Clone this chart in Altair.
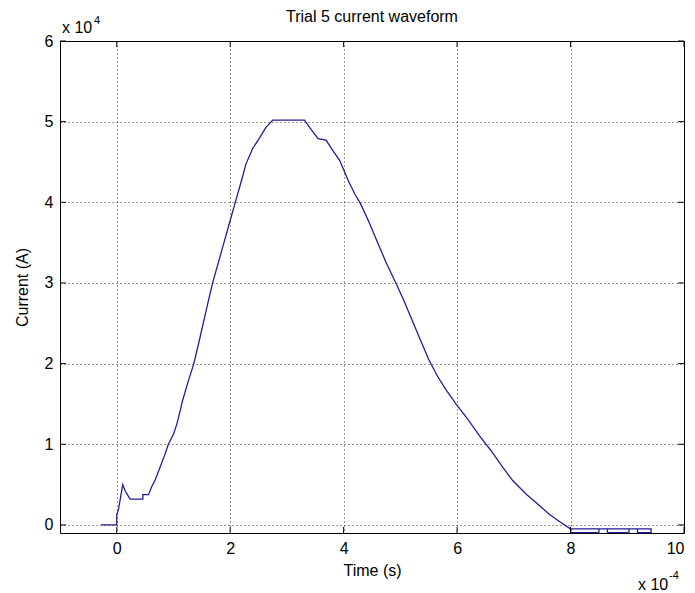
import altair as alt
import pandas as pd

# time in units of 1e-4 s, current in units of 1e4 A
time_vals = [-0.28, 0.0, 0.0, 0.03, 0.06, 0.106, 0.15, 0.235, 0.46, 0.46, 0.56, 0.62, 0.68, 0.76,
             0.85, 0.91, 1.0, 1.06, 1.12, 1.16, 1.26, 1.36, 1.47, 1.58, 1.69, 1.79, 1.89, 1.99,
             2.09, 2.2, 2.28, 2.40, 2.51, 2.63, 2.75, 3.31, 3.40, 3.55, 3.69, 3.81, 3.93, 4.08,
             4.2, 4.3, 4.45, 4.6, 4.75, 4.92, 5.05, 5.2, 5.35, 5.5, 5.65, 5.8, 5.98, 6.2, 6.4,
             6.6, 6.8, 6.98, 7.22, 7.42, 7.63, 7.83, 8.0,
             8.0, 8.5, 8.5, 8.0, 8.5, 8.65, 8.65, 9.03, 9.03, 8.65, 9.03, 9.18, 9.18, 9.42, 9.42, 9.18, 9.42]
current_vals = [0.0, 0.0, 0.125, 0.19, 0.31, 0.5, 0.42, 0.32, 0.32, 0.375, 0.375, 0.48, 0.56, 0.71,
                0.875, 1.0, 1.125, 1.25, 1.42, 1.54, 1.78, 2.0, 2.33, 2.67, 3.0, 3.25, 3.5, 3.75,
                4.0, 4.27, 4.48, 4.67, 4.79, 4.93, 5.02, 5.02, 4.93, 4.79, 4.77, 4.64, 4.52, 4.27,
                4.1, 3.98, 3.75, 3.5, 3.25, 3.0, 2.8, 2.55, 2.3, 2.05, 1.85, 1.68, 1.5, 1.3, 1.1,
                0.92, 0.72, 0.55, 0.38, 0.26, 0.13, 0.03, -0.05,
                -0.095, -0.095, -0.05, -0.05, -0.05, -0.05, -0.095, -0.095, -0.05, -0.05, -0.05, -0.05,
                -0.095, -0.095, -0.05, -0.05, -0.05]

x_ticks = [0, 2, 4, 6, 8, 10]
y_ticks = [0, 1, 2, 3, 4, 5, 6]
x_domain = [-1, 10]
y_domain = [-0.1, 6]

TITLE = "Trial 5 current waveform"
FONT = "Liberation Sans"
LINE_COLOR = "#1f1f96"

df = pd.DataFrame({"t": time_vals, "i": current_vals, "order": list(range(len(time_vals)))})

xs = alt.Scale(domain=x_domain, nice=False, zero=False)
ys = alt.Scale(domain=y_domain, nice=False, zero=False)

base_line = alt.Chart(df).mark_line(color=LINE_COLOR, strokeWidth=1.3).encode(
    x=alt.X("t:Q", scale=xs,
            axis=alt.Axis(values=x_ticks, title="Time (s)", grid=True, format="d")),
    y=alt.Y("i:Q", scale=ys,
            axis=alt.Axis(values=y_ticks, title="Current (A)", grid=True, format="d")),
    order="order:Q",
)

# inward tick marks (MATLAB style) on all four sides
xt = pd.DataFrame({"t": x_ticks})
yt = pd.DataFrame({"i": y_ticks})
tick_len_x = 0.105
tick_len_y = 0.075

bottom_ticks = alt.Chart(xt).mark_rule(color="black").encode(
    x=alt.X("t:Q", scale=xs), y=alt.datum(y_domain[0]), y2=alt.datum(y_domain[0] + tick_len_y))
top_ticks = alt.Chart(xt).mark_rule(color="black").encode(
    x=alt.X("t:Q", scale=xs), y=alt.datum(y_domain[1]), y2=alt.datum(y_domain[1] - tick_len_y))
left_ticks = alt.Chart(yt).mark_rule(color="black").encode(
    y=alt.Y("i:Q", scale=ys), x=alt.datum(x_domain[0]), x2=alt.datum(x_domain[0] + tick_len_x))
right_ticks = alt.Chart(yt).mark_rule(color="black").encode(
    y=alt.Y("i:Q", scale=ys), x=alt.datum(x_domain[1]), x2=alt.datum(x_domain[1] - tick_len_x))

ann_df = pd.DataFrame({"k": [0]})
def txt(s, x, y, size, align="left", baseline="alphabetic"):
    return alt.Chart(ann_df).mark_text(text=s, font=FONT, fontSize=size, align=align,
                                       baseline=baseline, color="black").encode(
        x=alt.value(x), y=alt.value(y))

ann = (txt("x 10", 2, -8, 16) + txt("4", 34, -17, 11) +
       txt("x 10", 578, 549, 16) + txt("-4", 609, 538, 11) +
       txt(TITLE, 312, -24, 16, align="center", baseline="middle"))

chart = alt.layer(base_line, bottom_ticks, top_ticks, left_ticks, right_ticks, ann).properties(
    width=624, height=492,
    autosize=alt.AutoSizeParams(type="none"),
    padding={"left": 52, "top": 33, "right": 3, "bottom": 60},
).configure_view(stroke="black", strokeWidth=1).configure_axis(
    gridColor="black", gridDash=[1, 3], gridOpacity=0.8, gridWidth=1,
    domain=False, ticks=False,
    labelFont=FONT, labelFontSize=16, labelColor="black",
    titleFont=FONT, titleFontSize=16, titleFontWeight="normal", titleColor="black",
).configure_axisX(labelPadding=7, titlePadding=6).configure_axisY(
    labelPadding=7, titlePadding=14)

chart.save("out.html", embed_options={"renderer": "svg", "actions": False})
